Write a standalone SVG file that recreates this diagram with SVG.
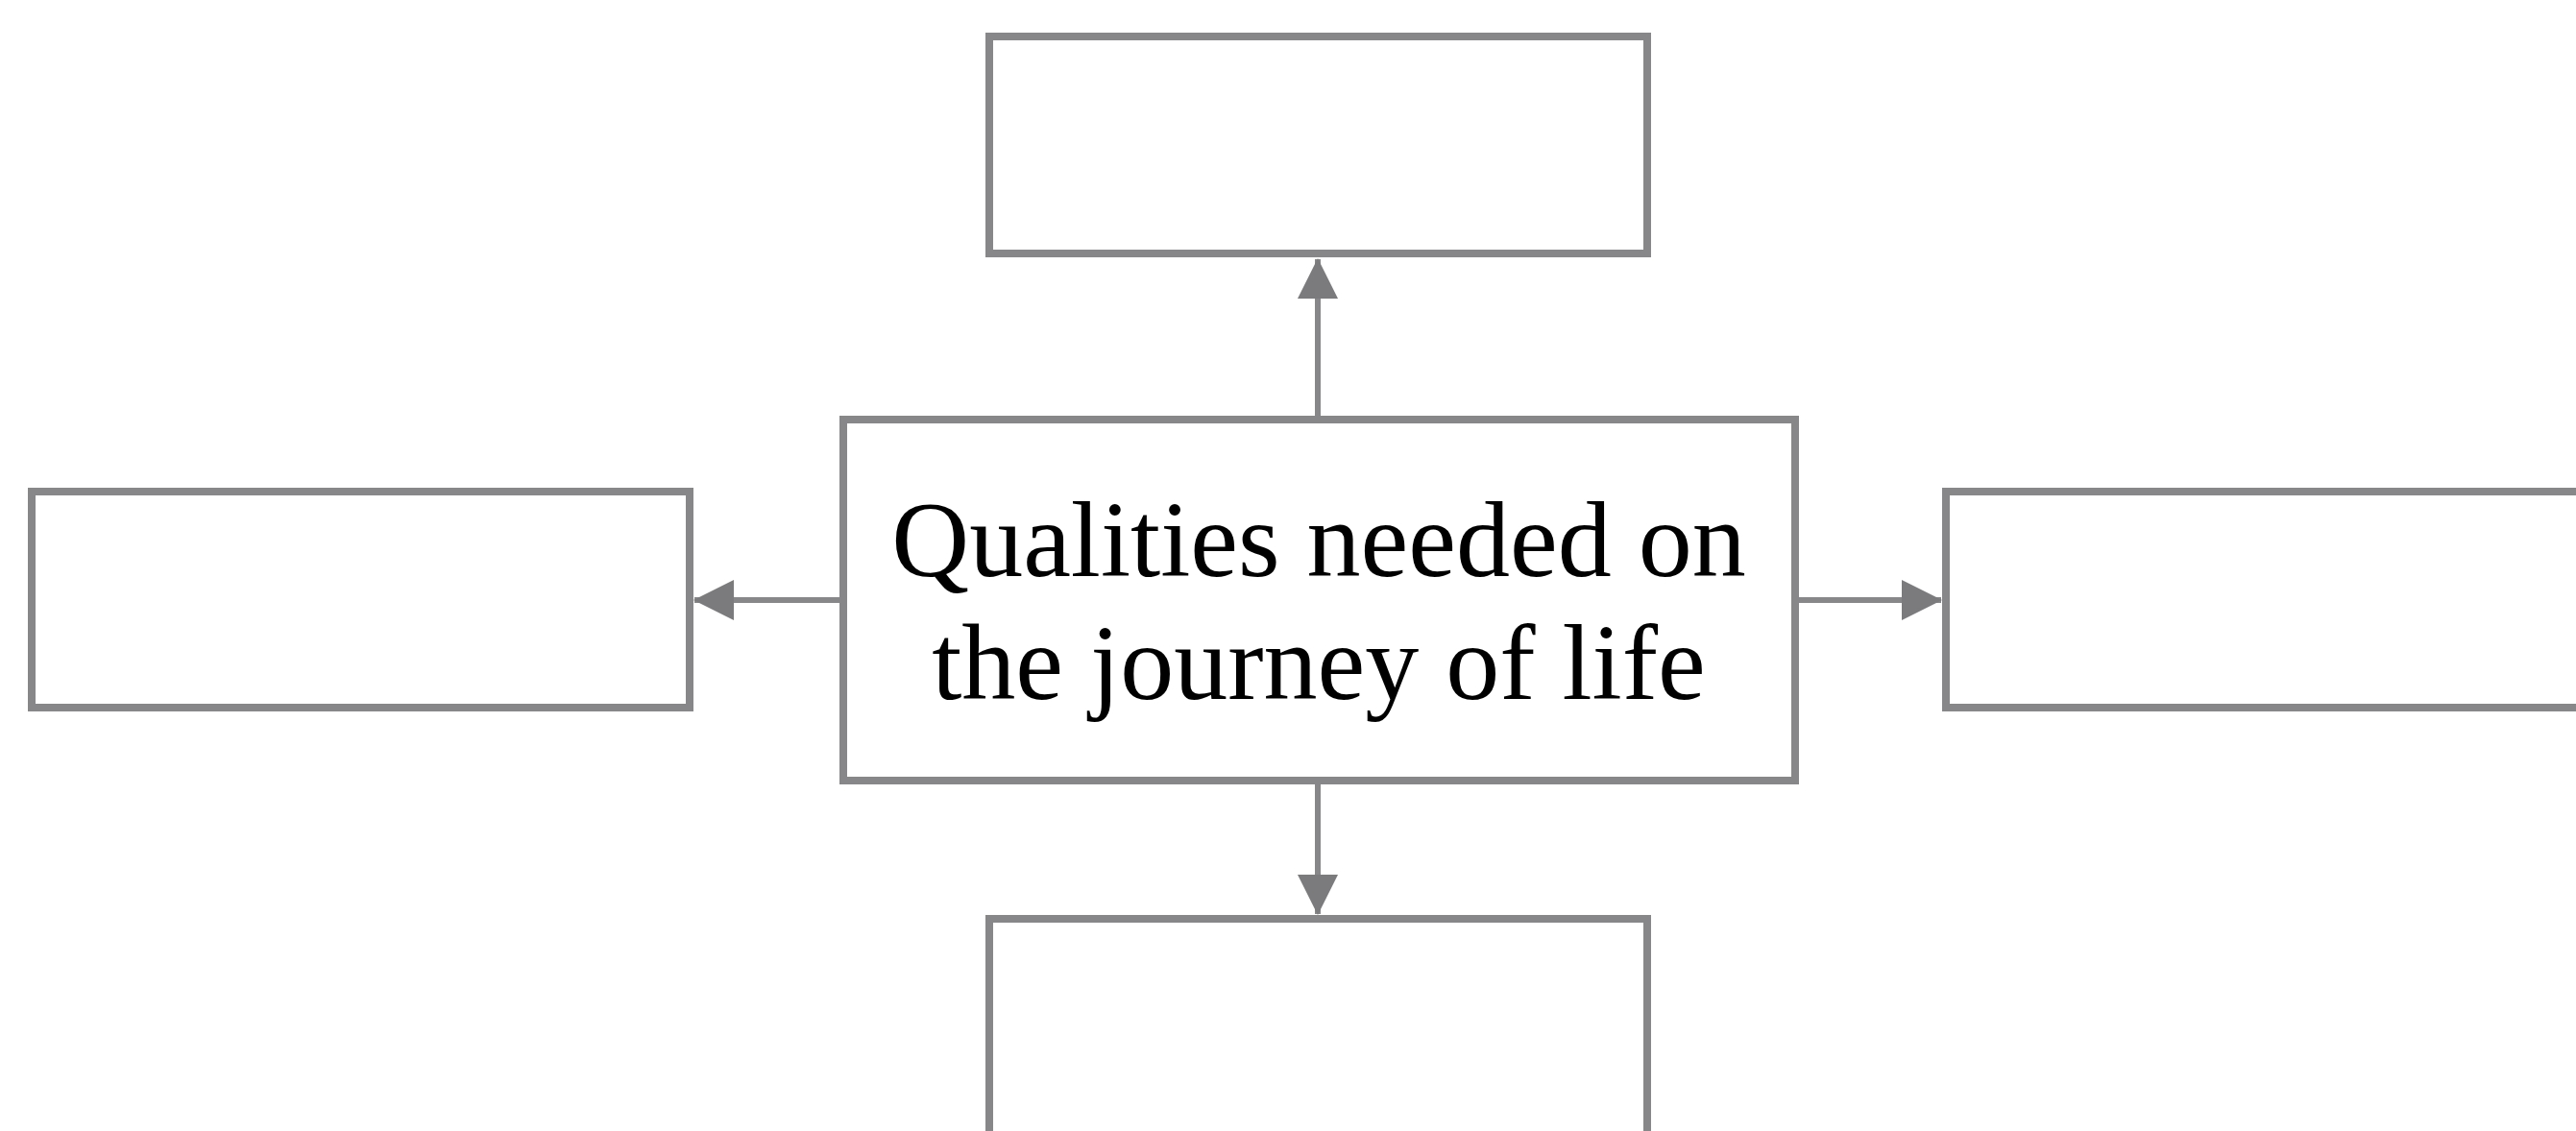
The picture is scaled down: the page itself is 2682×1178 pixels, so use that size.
<svg xmlns="http://www.w3.org/2000/svg" width="2682" height="1178" viewBox="0 0 2682 1178">
<defs>
<style>
.box{fill:#ffffff;stroke:#87878a;stroke-width:8}
.conn{stroke:#87878a;stroke-width:6;fill:none}
.lbl{font-family:"Liberation Serif","Times New Roman",serif;font-size:112px;fill:#000000;text-anchor:middle}
</style>
<marker id="ah" markerUnits="userSpaceOnUse" markerWidth="44" markerHeight="44" refX="41" refY="21" orient="auto">
<polygon points="0,0 42,21 0,42" fill="#7b7b7e"/>
</marker>
</defs>
<rect x="0" y="0" width="2682" height="1178" fill="#ffffff"/>
<g id="connectors">
<line class="conn" x1="1372" y1="433" x2="1372" y2="270" marker-end="url(#ah)"/>
<line class="conn" x1="1372" y1="817" x2="1372" y2="952" marker-end="url(#ah)"/>
<line class="conn" x1="874" y1="625" x2="723" y2="625" marker-end="url(#ah)"/>
<line class="conn" x1="1873" y1="625" x2="2021" y2="625" marker-end="url(#ah)"/>
</g>
<g id="node-top"><rect class="box" x="1030" y="38" width="685" height="226"/></g>
<g id="node-left"><rect class="box" x="33" y="512" width="685" height="225"/></g>
<g id="node-right"><rect class="box" x="2026" y="512" width="700" height="225"/></g>
<g id="node-bottom"><rect class="box" x="1030" y="957" width="685" height="260"/></g>
<g id="node-center">
<rect class="box" x="878" y="437" width="991" height="376"/>
<text class="lbl" x="1373" y="600">Qualities needed on</text>
<text class="lbl" x="1373" y="728">the journey of life</text>
</g>
</svg>
